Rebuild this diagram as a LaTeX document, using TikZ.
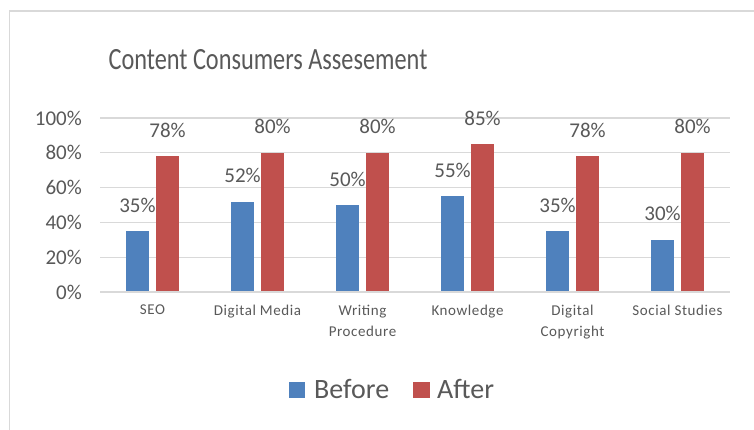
\documentclass[tikz,border=0pt]{standalone}
\usepackage{fontspec}
\setmainfont{Carlito}
\definecolor{txt}{HTML}{595959}
\definecolor{gridc}{HTML}{D9D9D9}
\definecolor{bluebar}{HTML}{4F81BD}
\definecolor{redbar}{HTML}{C0504D}
\newcommand{\fs}[1]{\fontsize{#1}{#1}\selectfont}
\begin{document}
\begin{tikzpicture}[x=1pt,y=-1pt,
  gridline/.style={draw=gridc,line width=1.2pt},
  framel/.style={draw=gridc,line width=1.6pt},
  bbar/.style={fill=bluebar,draw=none},
  rbar/.style={fill=redbar,draw=none},
  ticklab/.style={anchor=east,text=txt,font=\fs{21},inner sep=0pt},
  datalab/.style={text=txt,font=\fs{21},inner sep=0pt},
  catlab/.style={anchor=north,text=txt,font={\fontsize{15}{21}\selectfont\addfontfeature{LetterSpace=4}},inner sep=0pt,align=center,text depth=0pt},
  leglab/.style={anchor=base west,text=txt,font=\fs{28},inner sep=0pt}]
\useasboundingbox[fill=white] (0,0) rectangle (754,430);
% frame
\draw[framel] (9.5,430) -- (9.5,11) -- (754,11);
% title
\node[text=txt,font=\fs{30},inner sep=0pt] (title) at (268,60) {\scalebox{0.81}[1.03]{Content Consumers Assesement}};
% grid and ticks
\foreach \v/\lab in {0/0\%,20/20\%,40/40\%,60/60\%,80/80\%,100/100\%}{
  \draw[gridline] (100,{292-1.74*\v}) -- (730,{292-1.74*\v});
  \node[ticklab] (t\v) at (82,{292-1.74*\v}) {\lab};
}
% bars
\foreach \i/\b/\r/\cat in {0/35/78/SEO,1/52/80/Digital Media,2/50/80/Writing\\Procedure,3/55/85/Knowledge,4/35/78/Digital\\Copyright,5/30/80/Social Studies}{
  \pgfmathsetmacro{\c}{152.5+105*\i}
  \fill[bbar] ({\c-26.5},292) rectangle ({\c-3.5},{292-1.74*\b});
  \fill[rbar] ({\c+3.5},292) rectangle ({\c+26.5},{292-1.74*\r});
  \node[datalab] (lb\i) at ({\c-15},{292-1.74*\b-26}) {\b\%};
  \node[datalab] (lr\i) at ({\c+15},{292-1.74*\r-26}) {\r\%};
  \node[catlab] (cat\i) at (\c,305) {\cat};
}
\draw[gridline] (100,292) -- (730,292);
% legend
\fill[bbar] (289,382) rectangle (305,398);
\node[leglab] (lbefore) at (314,398) {Before};
\fill[rbar] (413,382) rectangle (430,398);
\node[leglab] (lafter) at (437,398) {After};
\end{tikzpicture}
\end{document}
